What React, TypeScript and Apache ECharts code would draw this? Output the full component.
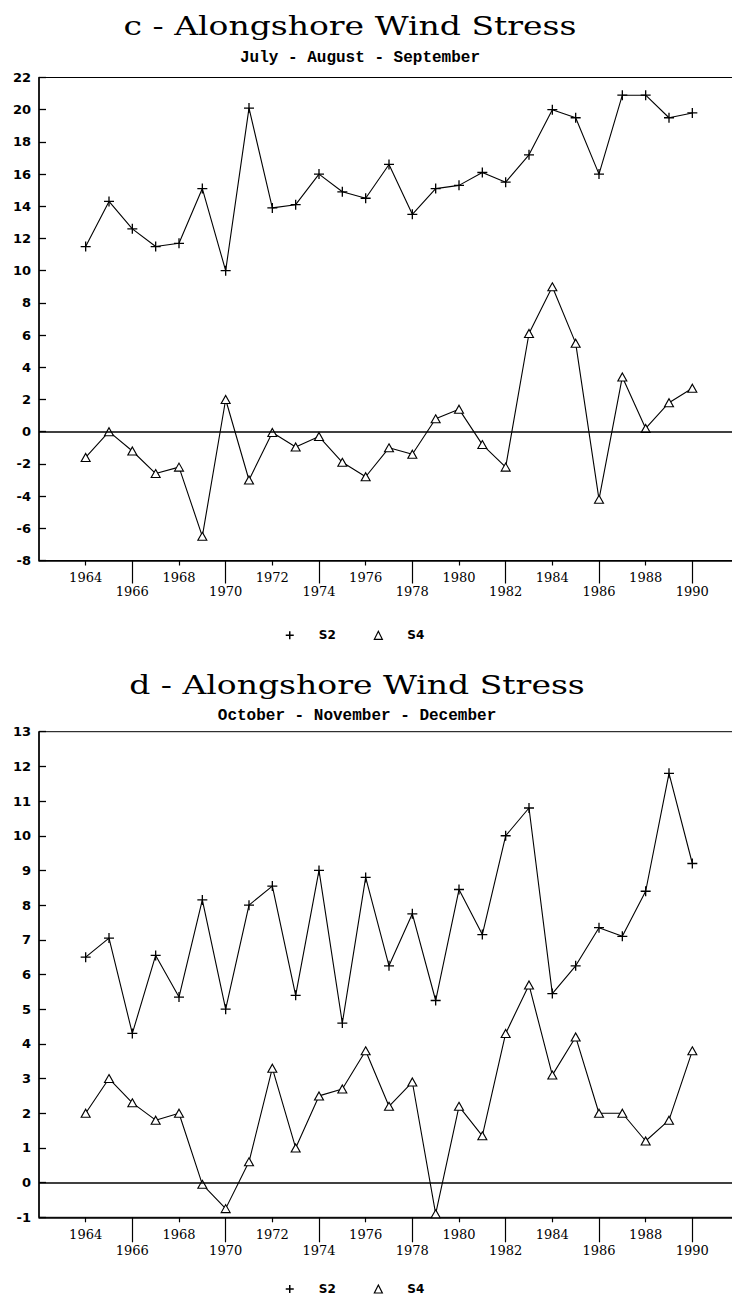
import React, { useEffect, useRef } from "react";
import * as echarts from "echarts";

// ---------- data ----------
const years = [1964, 1965, 1966, 1967, 1968, 1969, 1970, 1971, 1972, 1973, 1974, 1975, 1976, 1977, 1978, 1979, 1980, 1981, 1982, 1983, 1984, 1985, 1986, 1987, 1988, 1989, 1990];

// x-axis tick positions (every year of the axis span) and the two staggered label rows
const axisYears = ["1962", "1963", "1964", "1965", "1966", "1967", "1968", "1969", "1970", "1971", "1972", "1973", "1974", "1975", "1976", "1977", "1978", "1979", "1980", "1981", "1982", "1983", "1984", "1985", "1986", "1987", "1988", "1989", "1990", "1991", "1992"];
const upperRowYears = ["1964", "1968", "1972", "1976", "1980", "1984", "1988"];
const lowerRowYears = ["1966", "1970", "1974", "1978", "1982", "1986", "1990"];

// c - July - August - September
const s2JAS = [11.5, 14.3, 12.6, 11.5, 11.7, 15.1, 10.0, 20.1, 13.9, 14.1, 16.0, 14.9, 14.5, 16.6, 13.5, 15.1, 15.3, 16.1, 15.5, 17.2, 20.0, 19.5, 16.0, 20.9, 20.9, 19.5, 19.8];
const s4JAS = [-1.6, 0.0, -1.2, -2.6, -2.2, -6.5, 2.0, -3.0, -0.05, -0.95, -0.3, -1.9, -2.8, -1.0, -1.4, 0.8, 1.4, -0.8, -2.2, 6.1, 9.0, 5.5, -4.2, 3.4, 0.2, 1.8, 2.7];

// d - October - November - December
const s2OND = [6.5, 7.05, 4.3, 6.55, 5.35, 8.15, 5.0, 8.0, 8.55, 5.4, 9.0, 4.6, 8.8, 6.25, 7.75, 5.25, 8.45, 7.15, 10.0, 10.8, 5.45, 6.25, 7.35, 7.1, 8.4, 11.8, 9.2];
const s4OND = [2.0, 3.0, 2.3, 1.8, 2.0, -0.05, -0.75, 0.6, 3.3, 1.0, 2.5, 2.7, 3.8, 2.2, 2.9, -0.9, 2.2, 1.35, 4.3, 5.7, 3.1, 4.2, 2.0, 2.0, 1.2, 1.8, 3.8];

const seriesNames = ["S2", "S4"];
const titles = ["c - Alongshore Wind Stress", "d - Alongshore Wind Stress"];
const subtitles = ["July - August - September", "October - November - December"];

// ---------- styling ----------
const PLUS = "path://M0,5L10,5M5,0L5,10";
const BLACK = "#000";

function pairs(vals: number[]) {
  return years.map((y, i) => [y, vals[i]]);
}

function buildXAxes(gridIndex: number, upperMargin: number, lowerMargin: number, longTick: number) {
  const labelFont = { fontFamily: "DejaVu Serif", fontSize: 13, color: BLACK };
  return [
    {
      gridIndex,
      type: "value",
      min: 1962,
      max: 1992,
      axisLine: { show: true, onZero: false, lineStyle: { color: BLACK, width: 1.5 } },
      axisTick: { show: false },
      axisLabel: { show: false },
      splitLine: { show: false },
    },
    {
      gridIndex,
      type: "category",
      position: "bottom",
      data: axisYears,
      boundaryGap: false,
      axisLine: { show: false, onZero: false },
      axisTick: {
        show: true,
        length: 5,
        interval: (_i: number, v: string) => upperRowYears.includes(v),
        lineStyle: { color: BLACK, width: 1.2 },
      },
      axisLabel: {
        show: true,
        margin: upperMargin,
        interval: (_i: number, v: string) => upperRowYears.includes(v),
        ...labelFont,
      },
      splitLine: { show: false },
    },
    {
      gridIndex,
      type: "category",
      position: "bottom",
      data: axisYears,
      boundaryGap: false,
      axisLine: { show: false, onZero: false },
      axisTick: {
        show: true,
        length: longTick,
        interval: (_i: number, v: string) => lowerRowYears.includes(v),
        lineStyle: { color: BLACK, width: 1.2 },
      },
      axisLabel: {
        show: true,
        margin: lowerMargin,
        interval: (_i: number, v: string) => lowerRowYears.includes(v),
        ...labelFont,
      },
      splitLine: { show: false },
    },
  ];
}

function buildYAxis(gridIndex: number, min: number, max: number, interval: number) {
  return {
    gridIndex,
    type: "value",
    min,
    max,
    interval,
    axisLine: { show: true, onZero: false, lineStyle: { color: BLACK, width: 1.5 } },
    axisTick: { show: true, inside: true, length: 7, lineStyle: { color: BLACK, width: 1.3 } },
    axisLabel: { margin: 8, fontFamily: "DejaVu Sans", fontWeight: "bold", fontSize: 13, color: BLACK },
    splitLine: { show: false },
  };
}

function buildSeries(xAxisIndex: number, yAxisIndex: number, s2: number[], s4: number[]) {
  return [
    {
      name: seriesNames[0],
      type: "line",
      xAxisIndex,
      yAxisIndex,
      data: pairs(s2),
      symbol: PLUS,
      symbolSize: 10,
      showSymbol: true,
      showAllSymbol: true,
      itemStyle: { color: BLACK, borderColor: BLACK, borderWidth: 1.3 },
      lineStyle: { color: BLACK, width: 1.1 },
    },
    {
      name: seriesNames[1],
      type: "line",
      xAxisIndex,
      yAxisIndex,
      data: pairs(s4),
      symbol: "triangle",
      symbolSize: [9, 8],
      showSymbol: true,
      showAllSymbol: true,
      itemStyle: { color: "#fff", borderColor: BLACK, borderWidth: 1.1 },
      lineStyle: { color: BLACK, width: 1.1 },
      markLine: {
        silent: true,
        symbol: "none",
        label: { show: false },
        lineStyle: { color: BLACK, width: 1.5, type: "solid" },
        data: [{ yAxis: 0 }],
      },
    },
  ];
}

function buildLegend(top: number) {
  return {
    data: [
      { name: seriesNames[0], icon: PLUS, itemStyle: { color: BLACK, borderColor: BLACK, borderWidth: 1.5 } },
      { name: seriesNames[1], icon: "triangle", itemStyle: { color: "#fff", borderColor: BLACK, borderWidth: 1.2 } },
    ],
    left: 285,
    top,
    orient: "horizontal",
    itemWidth: 8,
    itemHeight: 8,
    itemGap: 38,
    padding: 0,
    selectedMode: false,
    textStyle: { fontFamily: "DejaVu Sans", fontWeight: "bold", fontSize: 12, color: BLACK, padding: [0, 0, 0, 20] },
  };
}

function titleText(text: string, x: number, y: number) {
  return {
    type: "text",
    x,
    y,
    scaleX: 1.27,
    style: { text, fontFamily: "DejaVu Serif", fontSize: 26, fill: BLACK, align: "center", verticalAlign: "middle" },
  };
}

function subtitleText(text: string, x: number, y: number) {
  return {
    type: "text",
    x,
    y,
    style: { text, fontFamily: "Liberation Mono", fontWeight: "bold", fontSize: 16, fill: BLACK, align: "center", verticalAlign: "middle" },
  };
}

export default function App() {
  const ref = useRef<HTMLDivElement>(null);

  useEffect(() => {
    if (!ref.current) return;
    const chart = echarts.init(ref.current, undefined, { renderer: "svg" });
    const option: any = {
      animation: false,
      backgroundColor: "#fff",
      grid: [
        { left: 39, top: 77.5, width: 700, height: 483, show: true, borderColor: BLACK, borderWidth: 1 },
        { left: 39, top: 731.7, width: 700, height: 485.6, show: true, borderColor: BLACK, borderWidth: 1 },
      ],
      xAxis: [...buildXAxes(0, 10, 24, 23), ...buildXAxes(1, 11, 27, 25)],
      yAxis: [buildYAxis(0, -8, 22, 2), buildYAxis(1, -1, 13, 1)],
      legend: [buildLegend(629.3), buildLegend(1283)],
      series: [...buildSeries(0, 0, s2JAS, s4JAS), ...buildSeries(3, 1, s2OND, s4OND)],
      graphic: [
        titleText(titles[0], 350, 25.5),
        subtitleText(subtitles[0], 360, 58),
        titleText(titles[1], 357, 684.5),
        subtitleText(subtitles[1], 357, 716),
      ],
    };
    chart.setOption(option);
    return () => chart.dispose();
  }, []);

  return (
    <div style={{ position: "absolute", left: 0, top: 0, width: 732, height: 1297, overflow: "hidden", background: "#fff" }}>
      <div ref={ref} style={{ width: 760, height: 1297 }} />
    </div>
  );
}
